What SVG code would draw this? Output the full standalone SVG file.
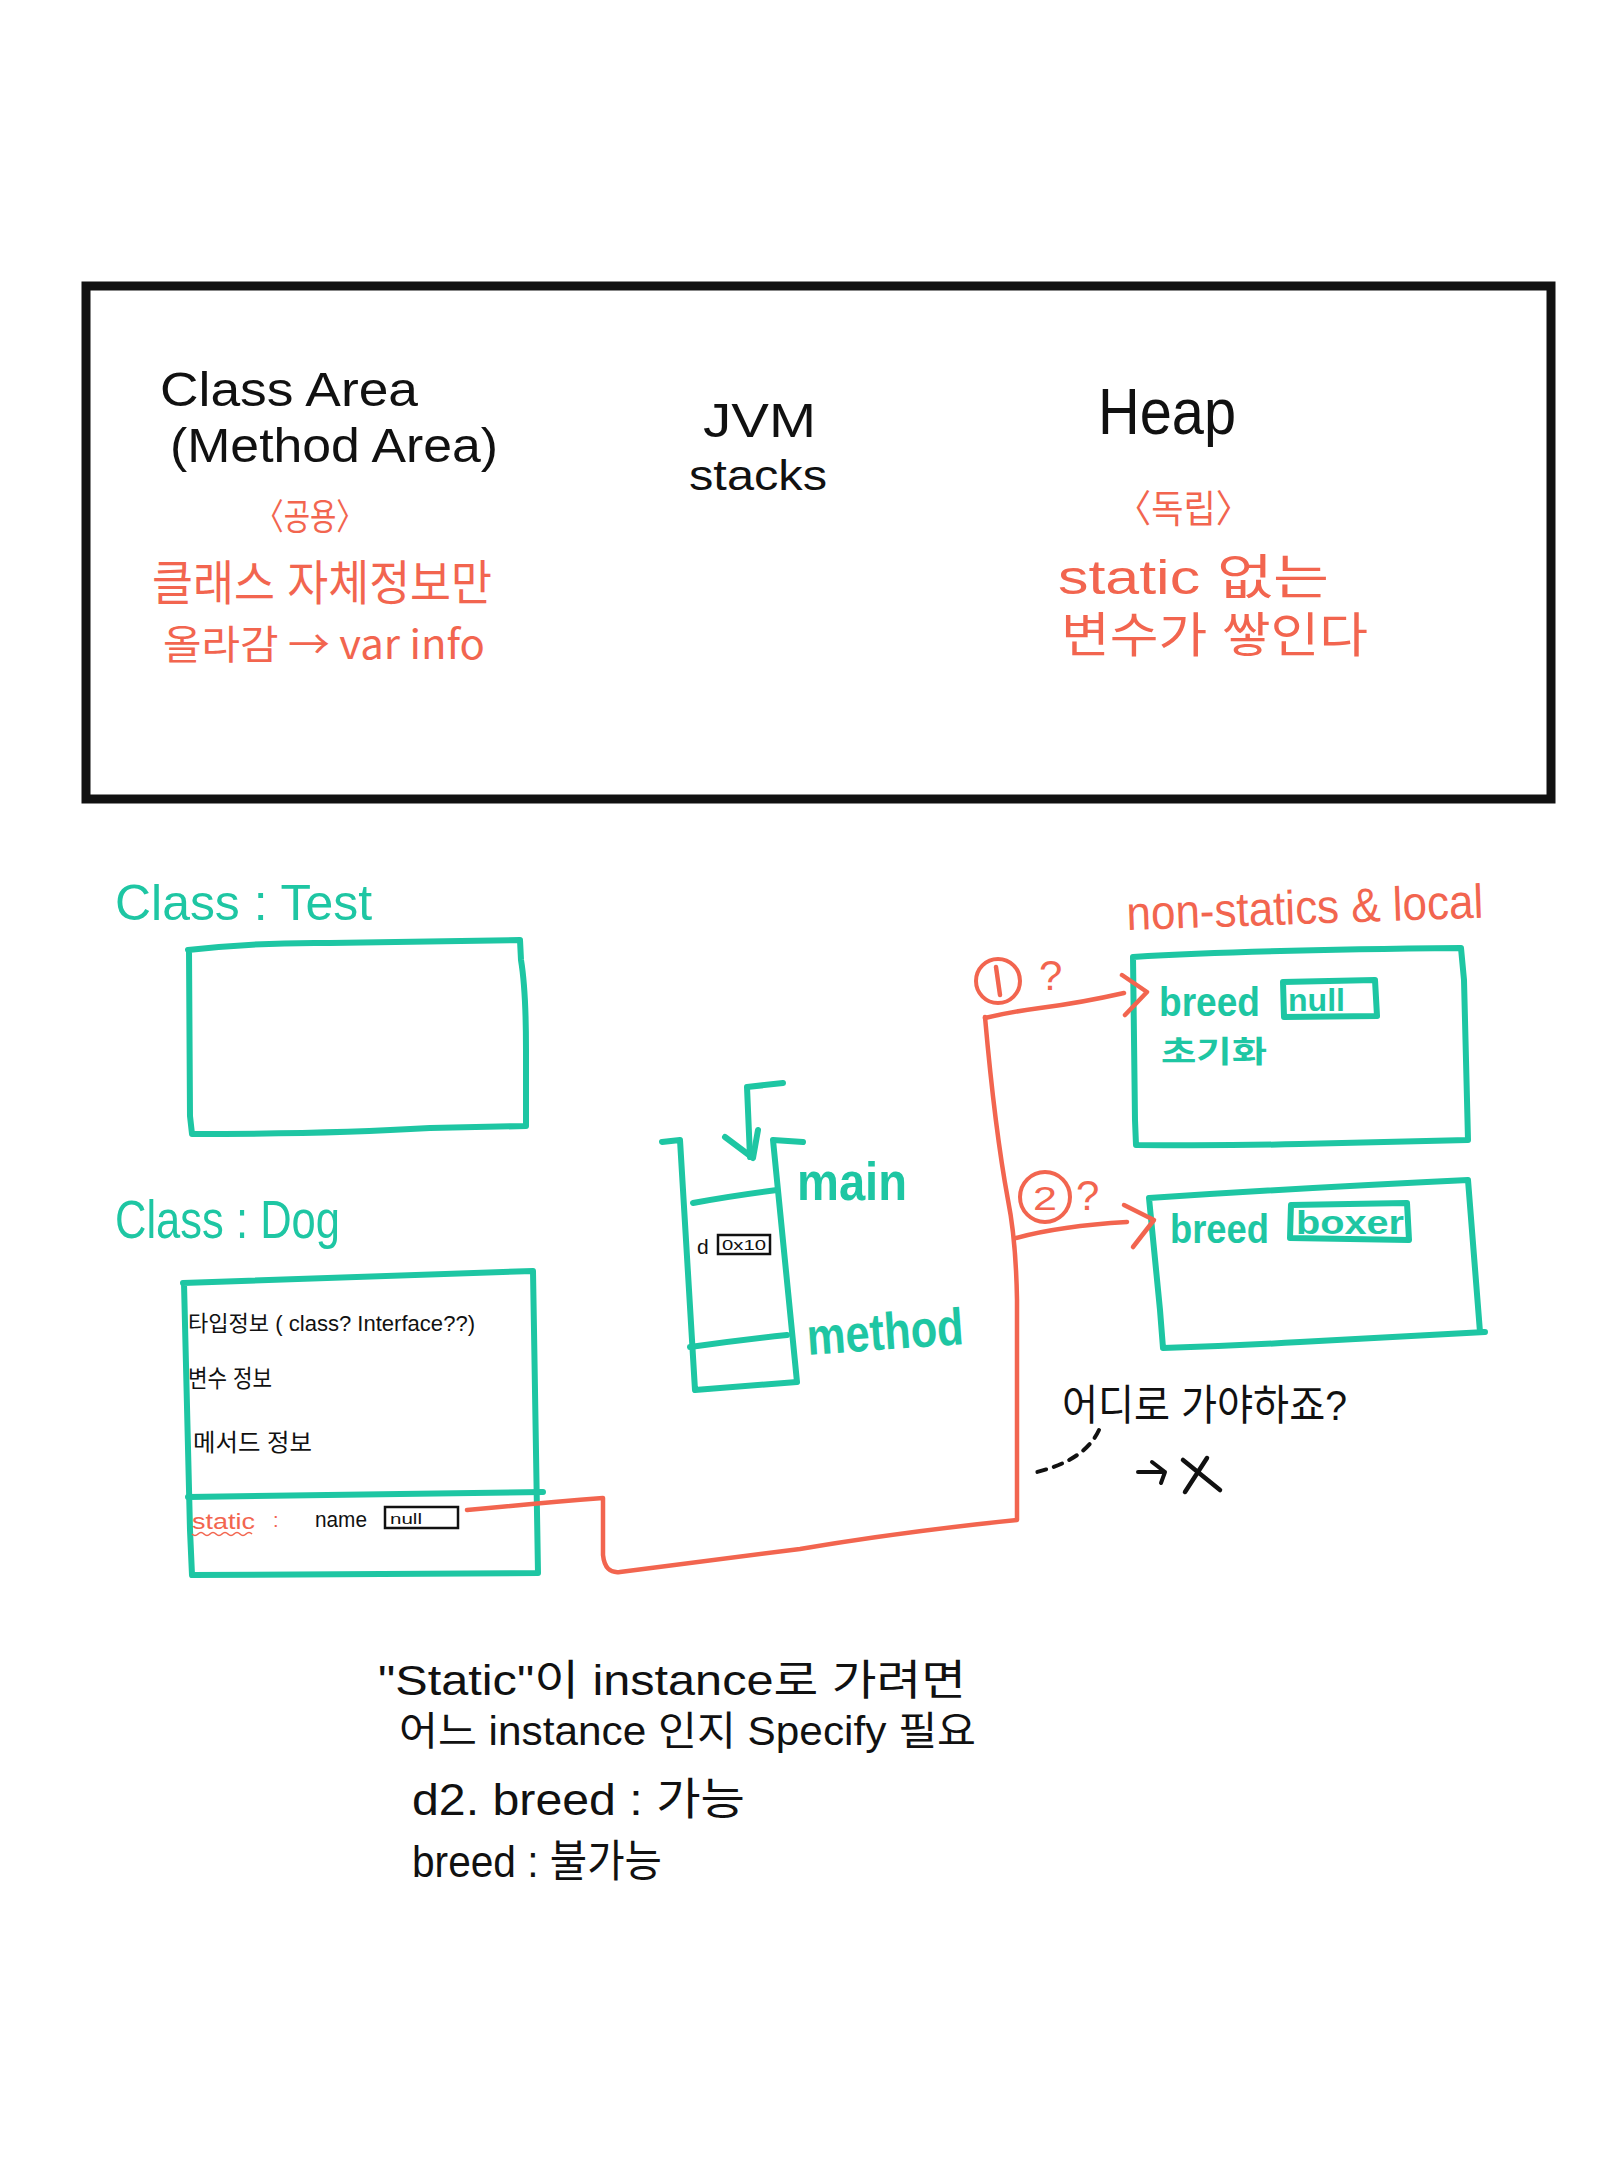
<svg xmlns="http://www.w3.org/2000/svg" width="1620" height="2160" viewBox="0 0 1620 2160">
<style>
  text { font-family: "Liberation Sans", "Noto Sans CJK KR", sans-serif; }
  .cjk { font-family: "Noto Sans CJK KR", sans-serif; }
  .blk { fill: #111; }
  .red { fill: #f2654f; }
  .teal { fill: #1ec6a3; }
  .bold { font-weight: bold; }
  .tbox { fill: none; stroke: #1ec6a3; stroke-width: 6; stroke-linecap: round; stroke-linejoin: round; }
  .rline { fill: none; stroke: #f2654f; stroke-width: 4.5; stroke-linecap: round; stroke-linejoin: round; }
  .kline { fill: none; stroke: #111; stroke-linecap: round; stroke-linejoin: round; }
</style>
<rect width="1620" height="2160" fill="#ffffff"/>

<g id="jvm-memory-frame">
  <rect x="86" y="286" width="1465" height="513" fill="none" stroke="#111" stroke-width="9"/>
  <text class="blk" x="160" y="406" font-size="48" textLength="258" lengthAdjust="spacingAndGlyphs">Class Area</text>
  <text class="blk" x="170" y="462" font-size="48" textLength="328" lengthAdjust="spacingAndGlyphs">(Method Area)</text>
  <text class="red" x="255" y="530" font-size="36" textLength="110" lengthAdjust="spacingAndGlyphs">〈공용〉</text>
  <text class="red" x="152" y="600" font-size="48" textLength="340" lengthAdjust="spacingAndGlyphs">클래스 자체정보만</text>
  <text class="red cjk" x="163" y="659" font-size="40" textLength="322" lengthAdjust="spacingAndGlyphs">올라감 → var info</text>
  <text class="blk" x="703" y="437" font-size="48" textLength="113" lengthAdjust="spacingAndGlyphs">JVM</text>
  <text class="blk" x="689" y="490" font-size="42" textLength="138" lengthAdjust="spacingAndGlyphs">stacks</text>
  <text class="blk" x="1098" y="434" font-size="64" textLength="138" lengthAdjust="spacingAndGlyphs">Heap</text>
  <text class="red" x="1116" y="522" font-size="38" textLength="135" lengthAdjust="spacingAndGlyphs">〈독립〉</text>
  <text class="red" x="1058" y="594" font-size="48" textLength="271" lengthAdjust="spacingAndGlyphs">static 없는</text>
  <text class="red" x="1061" y="652" font-size="48" textLength="307" lengthAdjust="spacingAndGlyphs">변수가 쌓인다</text>
</g>

<g id="class-test">
  <text class="teal" x="115" y="920" font-size="50" textLength="257" lengthAdjust="spacingAndGlyphs">Class : Test</text>
  <path class="tbox" d="M188,950 Q260,942 330,943 L520,940 L521,960 Q526,990 526,1050 L526,1126 L430,1128 Q330,1134 192,1134 L190,1116 L189,950"/>
</g>

<g id="class-dog">
  <text class="teal" x="115" y="1238" font-size="54" textLength="225" lengthAdjust="spacingAndGlyphs">Class : Dog</text>
  <path class="tbox" d="M183,1283 L533,1271 L534,1330 L538,1573 L192,1575 L190,1530 L184,1283"/>
  <path class="tbox" d="M188,1497 L543,1492"/>
  <text class="blk" x="188" y="1331" font-size="22" textLength="287" lengthAdjust="spacingAndGlyphs">타입정보 ( class? Interface??)</text>
  <text class="blk" x="188" y="1387" font-size="24" textLength="84" lengthAdjust="spacingAndGlyphs">변수 정보</text>
  <text class="blk" x="193" y="1451" font-size="24" textLength="119" lengthAdjust="spacingAndGlyphs">메서드 정보</text>
  <text class="red" x="192" y="1529" font-size="22" textLength="63" lengthAdjust="spacingAndGlyphs">static</text>
  <path d="M192,1534 q3,3 6,0 t6,0 t6,0 t6,0 t6,0 t6,0 t6,0 t6,0 t6,0 t6,0" fill="none" stroke="#f2654f" stroke-width="1.6"/>
  <text class="red" x="273" y="1527" font-size="20">:</text>
  <text class="blk" x="315" y="1527" font-size="22" textLength="52" lengthAdjust="spacingAndGlyphs">name</text>
  <rect x="385" y="1507" width="73" height="21" fill="none" stroke="#111" stroke-width="2.5"/>
  <text class="blk" x="390" y="1524" font-size="15" textLength="32" lengthAdjust="spacingAndGlyphs">null</text>
</g>

<g id="jvm-stack">
  <path class="tbox" d="M783,1083 L747,1087 L750,1157"/>
  <path class="tbox" d="M725,1137 L753,1158 L758,1130"/>
  <path class="tbox" d="M662,1142 L680,1140 L695,1390 L797,1382 L773,1140 L803,1142"/>
  <path class="tbox" d="M693,1203 Q730,1196 777,1190"/>
  <path class="tbox" d="M690,1347 Q740,1340 787,1335"/>
  <text class="blk" x="697" y="1254" font-size="21">d</text>
  <rect x="718" y="1235" width="52" height="19" fill="none" stroke="#111" stroke-width="2.5"/>
  <text class="blk" x="722" y="1250" font-size="14" textLength="44" lengthAdjust="spacingAndGlyphs">0x10</text>
  <text class="teal bold" x="797" y="1200" font-size="54" textLength="110" lengthAdjust="spacingAndGlyphs">main</text>
  <text class="teal bold" x="808" y="1355" font-size="52" textLength="157" lengthAdjust="spacingAndGlyphs" transform="rotate(-4 808 1355)">method</text>
</g>

<g id="heap-instance-1">
  <text class="red" x="1127" y="930" font-size="48" textLength="357" lengthAdjust="spacingAndGlyphs" transform="rotate(-2 1127 930)">non-statics &amp; local</text>
  <path class="tbox" d="M1133,957 Q1250,950 1461,948 L1464,980 Q1466,1060 1468,1140 L1300,1144 Q1220,1146 1136,1145 L1135,1120 L1133,957"/>
  <text class="teal bold" x="1159" y="1016" font-size="40" textLength="101" lengthAdjust="spacingAndGlyphs">breed</text>
  <path class="tbox" d="M1283,982 L1375,980 L1377,1016 L1284,1017 Z" stroke-width="4.5"/>
  <text class="teal bold" x="1288" y="1011" font-size="32" textLength="57" lengthAdjust="spacingAndGlyphs">null</text>
  <text class="teal bold" x="1161" y="1062" font-size="30" textLength="106" lengthAdjust="spacingAndGlyphs">초기화</text>
</g>

<g id="heap-instance-2">
  <path class="tbox" d="M1149,1198 Q1300,1188 1468,1180 L1480,1332 L1485,1332 L1300,1342 Q1230,1346 1163,1348 L1160,1310 L1149,1198"/>
  <text class="teal bold" x="1170" y="1243" font-size="40" textLength="99" lengthAdjust="spacingAndGlyphs">breed</text>
  <path class="tbox" d="M1291,1205 L1407,1203 L1409,1240 L1290,1238 Z" stroke-width="4.5"/>
  <text class="teal bold" x="1296" y="1234" font-size="34" textLength="108" lengthAdjust="spacingAndGlyphs">boxer</text>
</g>

<g id="connectors">
  <path class="rline" d="M467,1510 Q540,1503 603,1498 L603,1555 Q605,1574 620,1572 Q700,1562 800,1549 Q900,1532 1017,1520 L1017,1300 Q1016,1240 1008,1200 Q995,1130 985,1017"/>
  <path class="rline" d="M985,1018 Q1010,1012 1040,1008 Q1080,1003 1124,993"/>
  <path class="rline" d="M1122,975 L1147,992 L1125,1015"/>
  <path class="rline" d="M1016,1238 Q1060,1226 1127,1222"/>
  <path class="rline" d="M1124,1205 L1154,1220 L1133,1247"/>
  <path class="kline" d="M1099,1430 Q1085,1460 1037,1472" stroke-width="4" stroke-dasharray="9 8"/>
</g>

<g id="labels">
  <circle cx="998" cy="981" r="22" fill="none" stroke="#f2654f" stroke-width="4"/>
  <path class="rline" d="M996,967 L1000,995"/>
  <text class="red" x="1039" y="990" font-size="42">?</text>
  <circle cx="1045" cy="1197" r="25" fill="none" stroke="#f2654f" stroke-width="4"/>
  <text class="red" x="1033" y="1210" font-size="34" textLength="24" lengthAdjust="spacingAndGlyphs">2</text>
  <text class="red" x="1076" y="1210" font-size="42">?</text>
  <text class="blk" x="1062" y="1420" font-size="42" textLength="285" lengthAdjust="spacingAndGlyphs">어디로 가야하죠?</text>
  <path class="kline" d="M1138,1472 L1165,1472 M1152,1462 L1165,1472 L1161,1483" stroke-width="4"/>
  <path class="kline" d="M1183,1460 L1220,1490 M1207,1458 L1185,1492" stroke-width="4.5"/>
  <text class="blk" x="378" y="1695" font-size="42" textLength="588" lengthAdjust="spacingAndGlyphs">"Static"이  instance로 가려면</text>
  <text class="blk" x="399" y="1745" font-size="40" textLength="577" lengthAdjust="spacingAndGlyphs">어느 instance 인지  Specify 필요</text>
  <text class="blk" x="412" y="1815" font-size="44" textLength="333" lengthAdjust="spacingAndGlyphs">d2. breed  :  가능</text>
  <text class="blk" x="412" y="1877" font-size="44" textLength="250" lengthAdjust="spacingAndGlyphs">breed : 불가능</text>
</g>
</svg>
